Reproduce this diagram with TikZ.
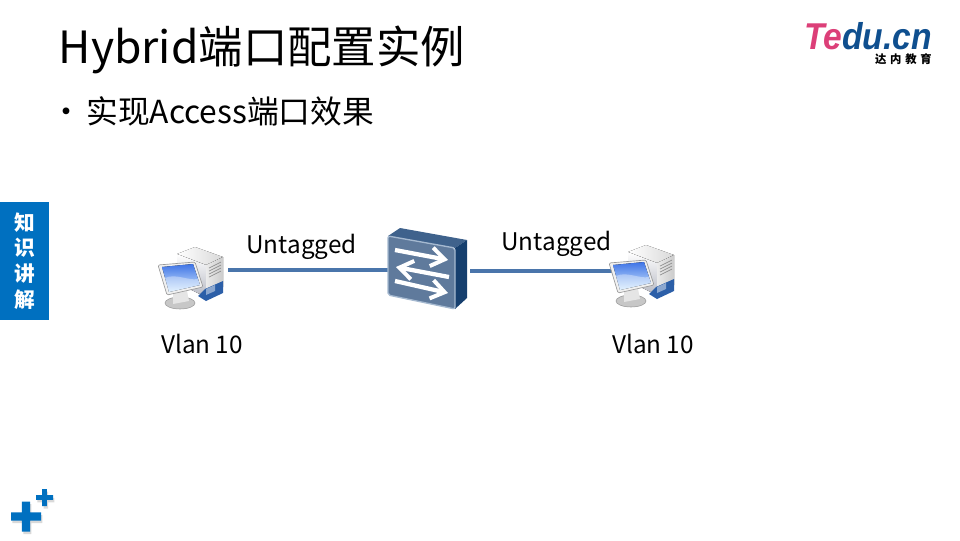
\documentclass[tikz,border=0pt]{standalone}
\usepackage{fontspec}
\setmainfont{Noto Sans CJK SC}
\newfontfamily\logofont{Liberation Sans}
\usetikzlibrary{arrows.meta,shadows}
\definecolor{tabblue}{HTML}{0070C0}
\definecolor{linkblue}{HTML}{4A75AB}
\definecolor{swfront}{HTML}{5F7A9C}
\definecolor{swtop}{HTML}{3F628C}
\definecolor{swside}{HTML}{163F6E}
\definecolor{swrim}{HTML}{A5B9D0}
\definecolor{logoblue}{HTML}{0F4F8F}
\definecolor{logopink}{HTML}{DC3F78}
\definecolor{screendark}{HTML}{3F74E6}
\definecolor{screenlight}{HTML}{D5ECFF}
\definecolor{towerside}{HTML}{E4E7F4}
\definecolor{towerblue}{HTML}{2C5FA8}
\begin{document}
\begin{tikzpicture}[
    x=.75pt,y=-.75pt,
    label/.style={font=\fontsize{18.2}{22}\selectfont,inner sep=0},
    hostbox/.style={inner sep=0,minimum width=53pt,minimum height=40pt},
    link/.style={draw=linkblue,line width=2.3pt},
    swarrow/.style={white,line width=3.2pt,-{Straight Barb[length=10pt,width=14pt,line width=3pt]}},
    pics/host/.style={code={
        \fill[left color=white,right color=black!15] (37,39) -- (55,32) -- (83,42) -- (66,50) -- cycle;
        \fill[top color=white,bottom color=towerside!80!black] (37,39) -- (66,50) -- (66,82) -- (37,68) -- cycle;
        \fill[left color=black!8,right color=black!20] (66,50) -- (83,42) -- (83,72) -- (66,80) -- cycle;
        \fill[towerblue] (65,74) -- (83,66) -- (83,78) -- (66,86) -- (58,81) -- cycle;
        \fill[towerblue!55!white] (66,74) -- (75,70) -- (75,76) -- (66,80) -- cycle;
        \foreach \i in {0,3,6,9}
          \draw[black!45,line width=.5pt] (69,53+\i) -- (81,47+\i);
        \fill[black!22,draw=black!40,line width=.4pt] (40,88) ellipse (15 and 6);
        \fill[black!10] (33,78) -- (47,76) -- (49,86) -- (33,89) -- cycle;
        \fill[black!6,draw=black!40,line width=.5pt,rounded corners=1pt] (18,50) -- (55,47) -- (63,72) -- (27,80) -- cycle;
        \fill[shading=axis,shading angle=30,top color=screendark,bottom color=screenlight]
          (22,52) -- (53,49) -- (60,70) -- (29,77) -- cycle;
        \fill[white,opacity=.35] (25,63) .. controls (36,58) and (48,66) .. (58,64) -- (60,70) -- (29,77) -- cycle;
      }},
    pics/switchbox/.style={code={
        \fill[swtop] (13,21) -- (25,13) -- (92,25) -- (80,33) -- cycle;
        \fill[swside] (80,33) -- (92,25) -- (92,83) -- (80,94) -- cycle;
        \fill[swfront,draw=swrim,line width=1pt,rounded corners=1.5pt] (13,21) -- (80,33) -- (80,94) -- (13,80) -- cycle;
        \draw[swarrow] (20,35) -- (73,45);
        \draw[swarrow] (74,62) -- (21,52);
        \draw[swarrow] (20,66) -- (73,78);
      }},
    pics/plusmark/.style={code={
        \fill[tabblue,drop shadow={shadow xshift=1pt,shadow yshift=-2pt,opacity=.3}]
          (-#1,-#1*.27) -- (-#1*.27,-#1*.27) -- (-#1*.27,-#1) -- (#1*.27,-#1) -- (#1*.27,-#1*.27) -- (#1,-#1*.27)
          -- (#1,#1*.27) -- (#1*.27,#1*.27) -- (#1*.27,#1) -- (-#1*.27,#1) -- (-#1*.27,#1*.27) -- (-#1,#1*.27) -- cycle;
      }},
  ]
  \useasboundingbox (0,0) rectangle (960,540);
  \node[anchor=base west,inner sep=0,font=\fontsize{33.3}{40}\selectfont] (title) at (58.5,63) {Hybrid端口配置实例};
  \node[anchor=base west,inner sep=0,font=\fontsize{24}{29}\selectfont] (bullet) at (50,123) {•};
  \node[anchor=base west,inner sep=0,font=\fontsize{23.8}{29}\selectfont] (subtitle) at (86,123) {实现Access端口效果};

  \node[fill=tabblue,text=white,inner sep=0,minimum width=36.75pt,minimum height=88.5pt,align=center,
    font=\fontsize{15.5}{19.3}\selectfont\bfseries] (tab) at (24.5,261) {知\\识\\讲\\解};

  \node[hostbox] (hostA) at (192.5,270) {};
  \node[hostbox] (hostB) at (647.5,271) {};
  \node[inner sep=0,minimum width=61.5pt,minimum height=60pt] (sw) at (429,270) {};
  \draw[link] (hostA) -- (sw);
  \draw[link] (sw.east |- hostB) -- (hostB);
  \pic at (140,215) {host};
  \pic at (591,213) {host};
  \pic at (375,215) {switchbox};

  \node[label] (untagA) at (301.5,247) {Untagged};
  \node[label] (untagB) at (556.5,244) {Untagged};
  \node[label] (vlanA) at (202,344) {Vlan 10};
  \node[label] (vlanB) at (653,344) {Vlan 10};

  \node[anchor=base east,inner sep=0,xscale=.9,font=\logofont\fontsize{28}{28}\selectfont\bfseries\itshape,text=logoblue] (logo) at (932,49.5)
    {\textcolor{logopink}{Te}du.cn};
  \node[anchor=base east,inner sep=0,font=\fontsize{8.5}{10}\selectfont\bfseries] (logotext) at (932,63.5) {达\,\,内\,\,教\,\,育};

  \pic at (26,516.5) {plusmark=15};
  \pic at (44.5,497.5) {plusmark=8.5};
\end{tikzpicture}
\end{document}
